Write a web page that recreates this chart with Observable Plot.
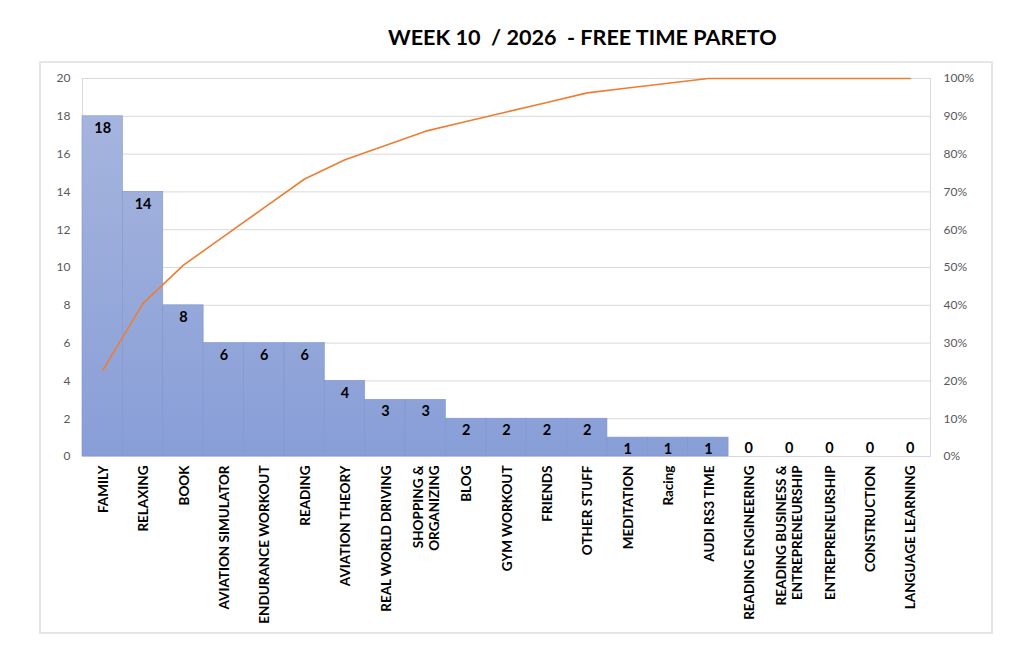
<!DOCTYPE html>
<html>
<head>
<meta charset="utf-8">
<script src="https://cdn.jsdelivr.net/npm/d3@7"></script>
<script src="https://cdn.jsdelivr.net/npm/@observablehq/plot@0.6"></script>
<style>
  html, body { margin: 0; padding: 0; background: #fff; }
  body { width: 1023px; height: 664px; position: relative; overflow: hidden; font-family: Lato, "Open Sans", sans-serif; }
  #frame { position: absolute; left: 39px; top: 61px; width: 950px; height: 569px; border: 2px solid #e6e6e6; box-sizing: content-box; }
  #title { position: absolute; left: 0; width: 1023px; top: 0; height: 61px; }
  #title span { position: absolute; left: 388px; top: 24px; font-weight: 700; font-size: 21.6px; color: #000; white-space: pre; letter-spacing: 0px; }
  #chart { position: absolute; left: 0; top: 61px; }
</style>
</head>
<body>
<div id="frame"></div>
<div id="title"><span>WEEK 10  / 2026  - FREE TIME PARETO</span></div>
<div id="chart"></div>
<script>
const categories = [
  "FAMILY", "RELAXING", "BOOK", "AVIATION SIMULATOR", "ENDURANCE WORKOUT", "READING",
  "AVIATION THEORY", "REAL WORLD DRIVING", "SHOPPING &\nORGANIZING", "BLOG", "GYM WORKOUT",
  "FRIENDS", "OTHER STUFF", "MEDITATION", "Racing", "AUDI RS3 TIME", "READING ENGINEERING",
  "READING BUSINESS &\nENTREPRENEURSHIP", "ENTREPRENEURSHIP", "CONSTRUCTION", "LANGUAGE LEARNING"
];
const hours = [18, 14, 8, 6, 6, 6, 4, 3, 3, 2, 2, 2, 2, 1, 1, 1, 0, 0, 0, 0, 0];
const leftTicks = [0, 2, 4, 6, 8, 10, 12, 14, 16, 18, 20];
const rightTickLabels = ["0%", "10%", "20%", "30%", "40%", "50%", "60%", "70%", "80%", "90%", "100%"];

const total = d3.sum(hours);
const cum = Array.from(d3.cumsum(hours));
const data = categories.map((c, i) => ({
  cat: c, v: hours[i], pct: cum[i] / total * 100
}));
// cumulative percent shown against the 0..20 primary scale (100% = 20)
const pctToY = p => p / 5;

const W = 1023, H = 603;
const chart = Plot.plot({
  width: W,
  height: H,
  marginTop: 17,
  marginBottom: H - (456 - 61),
  marginLeft: 82,
  marginRight: 93,
  style: { fontFamily: "Lato, 'Open Sans', sans-serif", background: "transparent", overflow: "visible" },
  x: { domain: categories, padding: 0, round: false, axis: null },
  y: { domain: [0, 20], axis: null },
  marks: [
    Plot.gridY(leftTicks, { stroke: "#d9d9d9", strokeOpacity: 1, strokeWidth: 1 }),
    Plot.frame({ stroke: "#d9d9d9", strokeWidth: 1 }),
    Plot.barY(data, { x: "cat", y: "v", fill: "url(#barGrad)", stroke: "#7f95cf", strokeWidth: 0.6, insetLeft: 0, insetRight: 0 }),
    Plot.axisY(leftTicks, { anchor: "left", label: null, tickSize: 0, tickPadding: 12, fontSize: 12, fill: "#595959" }),
    Plot.axisY(leftTicks, { anchor: "right", label: null, tickSize: 0, tickPadding: 13, fontSize: 12, fill: "#595959",
      tickFormat: (d) => rightTickLabels[leftTicks.indexOf(d)] }),
    Plot.lineY(data, { x: "cat", y: d => pctToY(d.pct), stroke: "#ED7D31", strokeWidth: 1.6 }),
    Plot.text(data.filter(d => d.v > 0), { x: "cat", y: "v", text: d => String(d.v), dy: 12, fontWeight: 700, fontSize: 14.5, fill: "#000", lineAnchor: "middle" }),
    Plot.text(data.filter(d => d.v === 0), { x: "cat", y: "v", text: d => String(d.v), dy: -8, fontWeight: 700, fontSize: 14.5, fill: "#000", lineAnchor: "middle" }),
    Plot.text(data, { x: "cat", y: 0, text: "cat", rotate: -90, textAnchor: "end", lineAnchor: "middle", dy: 9, fontWeight: 700, fontSize: 13.5, fill: "#000", lineHeight: 1.2 })
  ]
});

const svgNS = "http://www.w3.org/2000/svg";
const defs = document.createElementNS(svgNS, "defs");
const grad = document.createElementNS(svgNS, "linearGradient");
grad.setAttribute("id", "barGrad");
grad.setAttribute("gradientUnits", "userSpaceOnUse");
grad.setAttribute("x1", 0); grad.setAttribute("x2", 0);
grad.setAttribute("y1", 17); grad.setAttribute("y2", 456 - 61);
[["0", "#a9b7df"], ["1", "#889ed7"]].forEach(([o, c]) => {
  const s = document.createElementNS(svgNS, "stop");
  s.setAttribute("offset", o); s.setAttribute("stop-color", c);
  grad.appendChild(s);
});
defs.appendChild(grad);
chart.insertBefore(defs, chart.firstChild);
document.getElementById("chart").appendChild(chart);
</script>
</body>
</html>
